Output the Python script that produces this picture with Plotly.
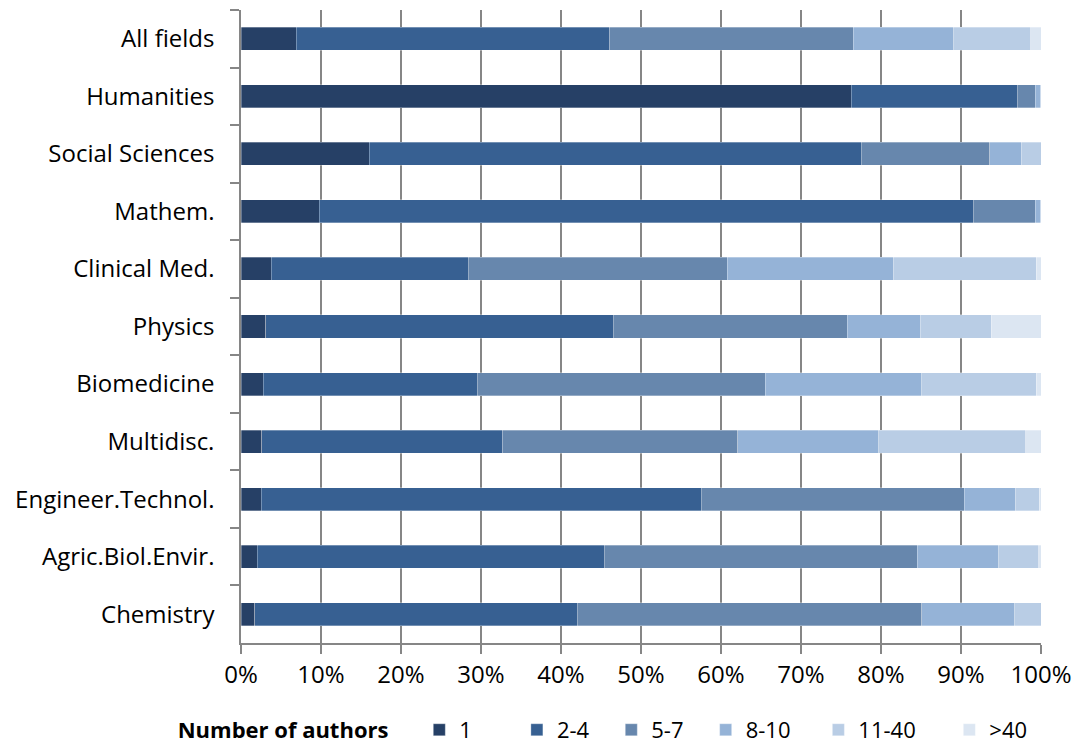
import plotly.graph_objects as go

categories = ["All fields", "Humanities", "Social Sciences", "Mathem.", "Clinical Med.",
              "Physics", "Biomedicine", "Multidisc.", "Engineer.Technol.",
              "Agric.Biol.Envir.", "Chemistry"]

series_names = ["1", "2-4", "5-7", "8-10", "11-40", ">40"]

# Share (%) of publications per author-count class
s_1     = [6.9, 76.3, 16.0, 9.8, 3.8, 3.1, 2.8, 2.6, 2.5, 2.0, 1.7]
s_2_4   = [39.2, 20.7, 61.5, 81.7, 24.6, 43.4, 26.7, 30.1, 55.0, 43.4, 40.3]
s_5_7   = [30.4, 2.3, 16.1, 7.8, 32.4, 29.3, 36.0, 29.4, 32.9, 39.1, 43.1]
s_8_10  = [12.6, 0.6, 3.9, 0.6, 20.7, 9.1, 19.6, 17.6, 6.4, 10.2, 11.6]
s_11_40 = [9.6, 0.1, 2.5, 0.1, 17.9, 8.9, 14.3, 18.4, 3.0, 5.0, 3.3]
s_gt40  = [1.3, 0.0, 0.0, 0.0, 0.6, 6.2, 0.6, 1.9, 0.2, 0.3, 0.0]

series_values = [s_1, s_2_4, s_5_7, s_8_10, s_11_40, s_gt40]
colors = ["#264066", "#376092", "#6787ad", "#95b3d7", "#b9cde5", "#dce6f2"]

x_ticks = [0, 10, 20, 30, 40, 50, 60, 70, 80, 90, 100]
x_tick_labels = [f"{v}%" for v in x_ticks]

# extra trailing spacing after each legend label (layout only)
legend_pad = [7, 3, 3, 4, 5, 0]

fig = go.Figure()
for name, vals, col, pad in zip(series_names, series_values, colors, legend_pad):
    fig.add_trace(go.Bar(
        y=categories, x=vals, name=name + " " * pad, orientation="h",
        marker=dict(color=col, line=dict(color="rgba(255,255,255,0.5)", width=0.6)),
    ))

font_family = "Open Sans, Liberation Sans, sans-serif"
fig.update_layout(
    barmode="stack",
    bargap=0.6,
    width=1075, height=745,
    margin=dict(l=241, r=34, t=10, b=102, autoexpand=False),
    plot_bgcolor="white", paper_bgcolor="white",
    font=dict(family=font_family, size=24, color="black"),
    legend=dict(
        orientation="h", x=0.454, xanchor="center", y=-0.1374, yanchor="middle",
        title=dict(text="<b>Number of authors</b>    ", side="left", font=dict(size=22)),
        font=dict(size=22), traceorder="normal", itemwidth=30,
    ),
    xaxis=dict(
        range=[0, 100], tickvals=x_ticks, ticktext=x_tick_labels,
        showgrid=True, gridcolor="#868686", gridwidth=1.5,
        showline=True, linecolor="#868686", linewidth=1.5,
        ticks="outside", ticklen=9, tickcolor="#868686", tickwidth=1.5,
        zeroline=False, fixedrange=True, automargin=False,
    ),
    yaxis=dict(
        categoryorder="array", categoryarray=categories, autorange="reversed",
        showline=True, linecolor="#868686", linewidth=1.5,
        ticks="outside", ticklen=9, tickcolor="#868686", tickwidth=1.5,
        tickson="boundaries", ticklabelstandoff=20, showgrid=False,
        automargin=False, fixedrange=True,
    ),
)

fig.write_html("out.html", config={"displayModeBar": False},
               post_script="document.body.style.margin='0';")
